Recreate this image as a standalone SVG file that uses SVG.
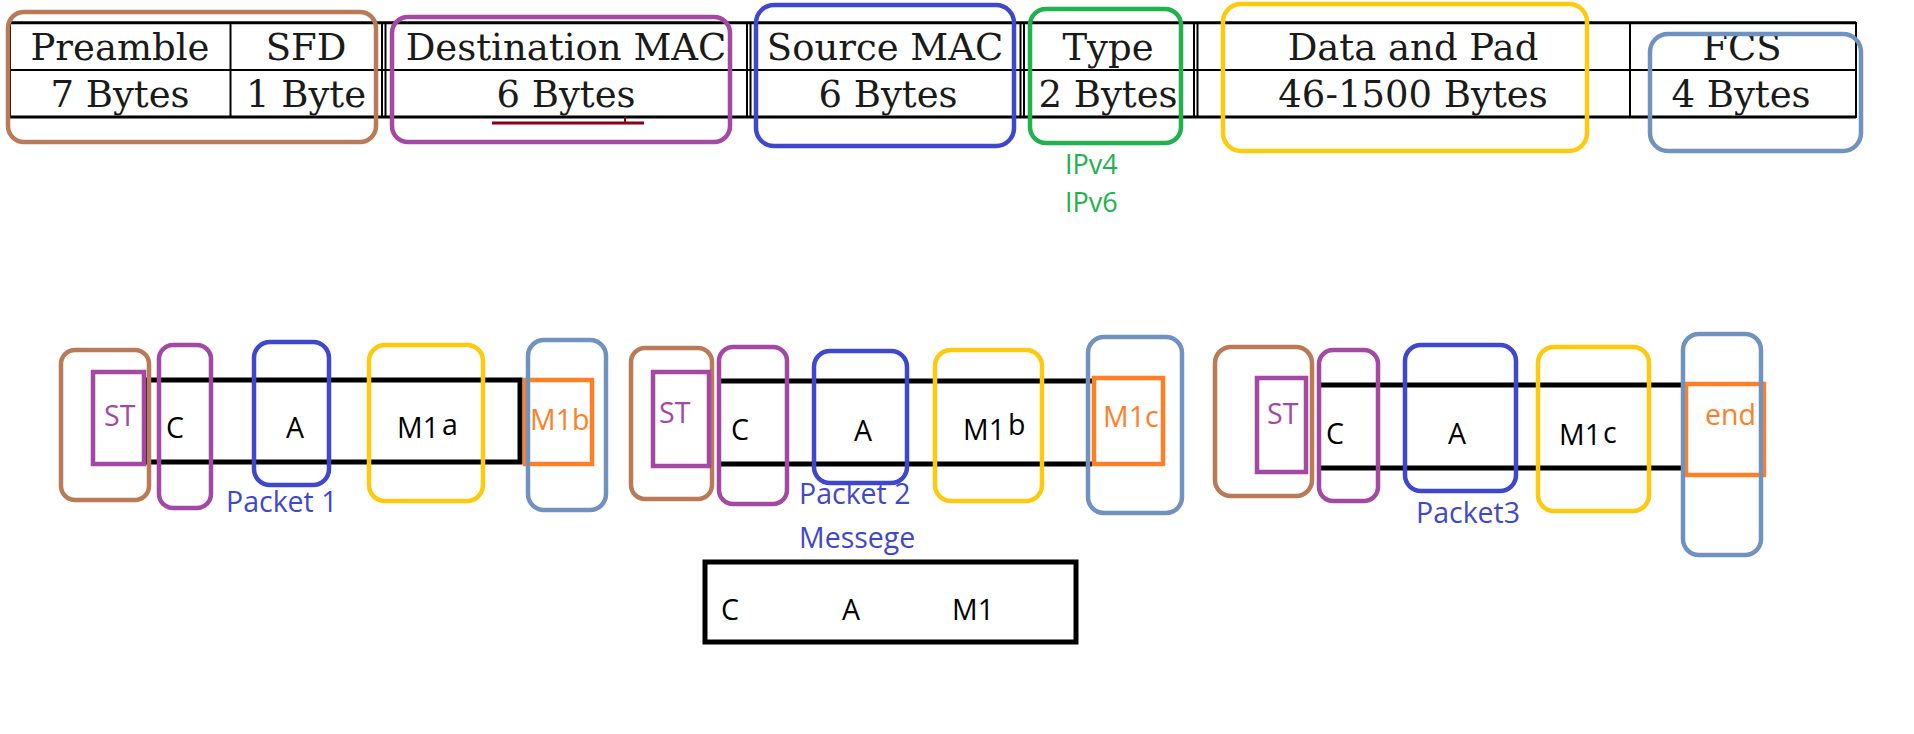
<svg xmlns="http://www.w3.org/2000/svg" width="1914" height="734" viewBox="0 0 1914 734">
<style>
.bg{fill:#ffffff}
.tl{stroke:#000;stroke-width:3;fill:none}
.tli{stroke:#000;stroke-width:2;fill:none}
.ser{font-family:"DejaVu Serif","Liberation Serif",serif;font-size:37px;fill:#1a1a1a;text-anchor:middle}
.sans{font-family:"Open Sans","Noto Sans","Liberation Sans",sans-serif;font-size:28.5px}
.blk{fill:#000}
.rb{fill:none;stroke-width:4.5}
.brown{stroke:#b97a57}
.purple{stroke:#a349a4}
.blue{stroke:#3f48cc}
.green{stroke:#22b14c}
.yellow{stroke:#ffc90e}
.lblue{stroke:#7092be}
.orange{stroke:#ff7f27}
.pk{stroke:#000;stroke-width:5;fill:none}
.tp{fill:#a349a4}
.to{fill:#ff7f27}
.tb{fill:#3f48cc}
.tg{fill:#22b14c}
</style>
<rect class="bg" x="0" y="0" width="1914" height="734"/>

<g id="frame-table">
  <line class="tl" x1="10" y1="22.7" x2="1856" y2="22.7"/>
  <line class="tli" x1="10" y1="70" x2="1856" y2="70"/>
  <line class="tl" x1="10" y1="117" x2="1856" y2="117"/>
  <line class="tli" x1="10" y1="22" x2="10" y2="118"/>
  <line class="tli" x1="1856" y1="22" x2="1856" y2="118"/>
  <line class="tli" x1="230.5" y1="22" x2="230.5" y2="118"/>
  <line class="tli" x1="382" y1="22" x2="382" y2="118"/>
  <line class="tli" x1="385.5" y1="22" x2="385.5" y2="118"/>
  <line class="tli" x1="747" y1="22" x2="747" y2="118"/>
  <line class="tli" x1="750.5" y1="22" x2="750.5" y2="118"/>
  <line class="tli" x1="1020.5" y1="22" x2="1020.5" y2="118"/>
  <line class="tli" x1="1024" y1="22" x2="1024" y2="118"/>
  <line class="tli" x1="1194" y1="22" x2="1194" y2="118"/>
  <line class="tli" x1="1197.5" y1="22" x2="1197.5" y2="118"/>
  <line class="tli" x1="1630" y1="22" x2="1630" y2="118"/>
  <line x1="492" y1="123" x2="644" y2="123" stroke="#880015" stroke-width="3"/>
  <line x1="625" y1="117" x2="625" y2="123" stroke="#880015" stroke-width="2"/>
</g>

<g id="field-preamble">
  <text class="ser" x="120" y="60">Preamble</text>
  <text class="ser" x="120" y="107">7 Bytes</text>
</g>
<g id="field-sfd">
  <text class="ser" x="306" y="60">SFD</text>
  <text class="ser" x="306" y="107">1 Byte</text>
  <rect class="rb brown" x="8" y="12" width="368" height="130" rx="16"/>
</g>
<g id="field-dest">
  <text class="ser" x="566" y="60">Destination MAC</text>
  <text class="ser" x="566" y="107">6 Bytes</text>
  <rect class="rb purple" x="392" y="17" width="338" height="125" rx="16"/>
</g>
<g id="field-source">
  <text class="ser" x="885" y="60">Source MAC</text>
  <text class="ser" x="888" y="107">6 Bytes</text>
  <rect class="rb blue" x="756" y="5" width="258" height="141" rx="18"/>
</g>
<g id="field-type">
  <text class="ser" x="1108" y="60">Type</text>
  <text class="ser" x="1108" y="107">2 Bytes</text>
  <rect class="rb green" x="1030" y="9" width="151" height="134" rx="16"/>
  <text class="sans tg" x="1065" y="174" style="font-size:27px">IPv4</text>
  <text class="sans tg" x="1065" y="212" style="font-size:27px">IPv6</text>
</g>
<g id="field-data">
  <text class="ser" x="1413" y="60">Data and Pad</text>
  <text class="ser" x="1413" y="107">46-1500 Bytes</text>
  <rect class="rb yellow" x="1223" y="4" width="364" height="147" rx="18"/>
</g>
<g id="field-fcs">
  <text class="ser" x="1742" y="60">FCS</text>
  <text class="ser" x="1741" y="107">4 Bytes</text>
  <rect class="rb lblue" x="1650" y="34" width="211" height="117" rx="18"/>
</g>

<g id="connectors">
  <rect class="pk" x="148" y="380" width="372" height="82"/>
  <line class="pk" x1="719" y1="381" x2="1092" y2="381"/>
  <line class="pk" x1="719" y1="464" x2="1092" y2="464"/>
  <line class="pk" x1="1319" y1="385" x2="1684" y2="385"/>
  <line class="pk" x1="1319" y1="468" x2="1684" y2="468"/>
</g>

<g id="packet1">
  <rect class="rb brown" x="61" y="350" width="88" height="150" rx="14"/>
  <rect class="rb purple" x="93" y="372" width="51" height="92"/>
  <text class="sans tp" x="104" y="426">ST</text>
  <rect class="rb purple" x="159" y="345" width="52" height="163" rx="14"/>
  <text class="sans blk" x="166" y="438">C</text>
  <rect class="rb blue" x="254" y="342" width="75" height="143" rx="16"/>
  <text class="sans blk" x="286" y="438">A</text>
  <rect class="rb yellow" x="369" y="345" width="114" height="156" rx="16"/>
  <text class="sans blk" x="397" y="438">M1<tspan dx="3" dy="-3">a</tspan></text>
  <rect class="rb orange" x="525" y="380" width="67" height="84"/>
  <text class="sans to" x="530" y="430">M1b</text>
  <rect class="rb lblue" x="528" y="340" width="78" height="170" rx="16"/>
  <text class="sans tb" x="226" y="512">Packet 1</text>
</g>

<g id="packet2">
  <rect class="rb brown" x="631" y="348" width="81" height="151" rx="14"/>
  <rect class="rb purple" x="653" y="372" width="56" height="94"/>
  <text class="sans tp" x="659" y="423">ST</text>
  <rect class="rb purple" x="719" y="347" width="68" height="157" rx="14"/>
  <text class="sans blk" x="731" y="440">C</text>
  <rect class="rb blue" x="814" y="351" width="93" height="132" rx="16"/>
  <text class="sans blk" x="854" y="441">A</text>
  <rect class="rb yellow" x="935" y="350" width="107" height="151" rx="16"/>
  <text class="sans blk" x="963" y="440">M1<tspan dx="3" dy="-5">b</tspan></text>
  <rect class="rb lblue" x="1088" y="337" width="94" height="176" rx="16"/>
  <rect class="rb orange" x="1094" y="378" width="69" height="86"/>
  <text class="sans to" x="1103" y="427">M1c</text>
  <text class="sans tb" x="799" y="504">Packet 2</text>
  <text class="sans tb" x="799" y="548">Messege</text>
</g>

<g id="packet3">
  <rect class="rb brown" x="1215" y="347" width="97" height="149" rx="16"/>
  <rect class="rb purple" x="1257" y="378" width="49" height="94"/>
  <text class="sans tp" x="1267" y="424">ST</text>
  <rect class="rb purple" x="1319" y="350" width="59" height="151" rx="14"/>
  <text class="sans blk" x="1326" y="444">C</text>
  <rect class="rb blue" x="1405" y="345" width="111" height="146" rx="16"/>
  <text class="sans blk" x="1448" y="444">A</text>
  <rect class="rb yellow" x="1538" y="347" width="111" height="164" rx="16"/>
  <text class="sans blk" x="1559" y="445">M1<tspan dx="2" dy="-2">c</tspan></text>
  <rect class="rb orange" x="1686" y="384" width="78" height="91"/>
  <text class="sans to" x="1705" y="425">end</text>
  <rect class="rb lblue" x="1683" y="334" width="78" height="221" rx="16"/>
  <text class="sans tb" x="1416" y="523">Packet3</text>
</g>

<g id="message">
  <rect class="pk" x="705" y="562" width="371" height="80"/>
  <text class="sans blk" x="721" y="620">C</text>
  <text class="sans blk" x="842" y="620">A</text>
  <text class="sans blk" x="952" y="620">M1</text>
</g>
</svg>
